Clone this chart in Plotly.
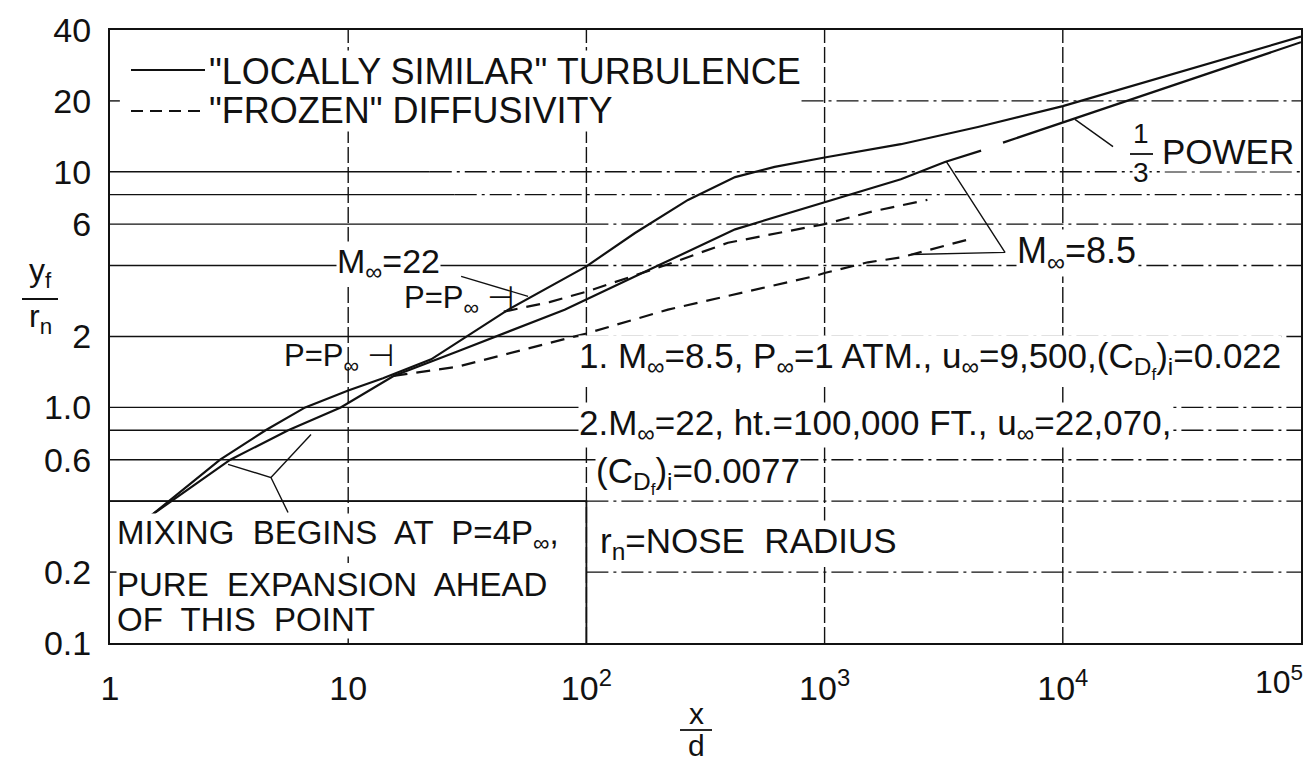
import plotly.graph_objects as go

# values (x/d against y_f/r_n, both log)
m22_local_x = [1.5, 2.9, 4.5, 6.6, 10, 14, 22.3, 30.9, 47, 100, 160, 267, 421, 617, 1000, 2090, 4400, 10000, 100000]
m22_local_y = [0.35, 0.6, 0.8, 1.0, 1.18, 1.33, 1.6, 1.98, 2.6, 3.97, 5.5, 7.6, 9.5, 10.5, 11.5, 13.1, 15.5, 19.0, 37.5]

m85_local_x = [1.5, 3.2, 5.6, 9.3, 15.5, 28.9, 81, 100, 200, 421, 1000, 2090, 3200, 4540]
m85_local_y = [0.35, 0.6, 0.8, 1.0, 1.36, 1.73, 2.6, 2.87, 4.0, 5.7, 7.42, 9.3, 11.0, 12.3]

m22_frozen_x = [45, 70, 100, 220, 393, 682, 1000, 1600, 2700]
m22_frozen_y = [2.55, 2.8, 3.1, 4.05, 5.0, 5.55, 6.0, 6.8, 7.6]

m85_frozen_x = [15.5, 28.9, 81, 100, 220, 900, 1000, 1520, 2090, 4120]
m85_frozen_y = [1.36, 1.49, 1.95, 2.06, 2.6, 3.6, 3.72, 4.13, 4.33, 5.2]

third_power_x = [5610, 10000, 100000]
third_power_y = [13.3, 16.2, 35.5]

# axes (the 10^5 label sits at the page edge, drawn separately)
x_ticks = [1, 10, 100, 1000, 10000, 100000]
x_ticktext = ["1", "10", "10<sup>2</sup>", "10<sup>3</sup>", "10<sup>4</sup>", ""]
y_ticks = [0.1, 0.2, 0.6, 1, 2, 6, 10, 20, 40]
y_ticktext = ["0.1", "0.2", "0.6", "1.0", "2", "6", "10", "20", "40"]

# grid: value, solid part up to, dash-dot part from
grid_y = [20, 10, 8, 6, 4, 2, 1, 0.8, 0.6, 0.4, 0.2]
grid_solid_to = [1.1, 22, 28, 100, 100, 100, 100, 100, 100, 100, 1.1]
grid_dash_from = [800, 22, 28, 100, 100, 100, 100, 100, 100, 100, 100]
grid_x = [10, 100, 1000, 10000]

# leader lines of the labels
lead_m22 = ([29.8, 56.9], [3.6, 2.96])
lead_m85 = ([3235, 5720, 2305], [11.1, 4.55, 4.46])
lead_third = ([11250, 16250], [16.7, 12.8])
lead_mix = ([5.59, 4.74, 3.13, None, 4.74, 6.98], [0.358, 0.504, 0.573, None, 0.504, 0.768])

INK = "#111111"
FONT = "Liberation Sans, DejaVu Sans, sans-serif"
W, H = 1312, 760
L, R, T, B = 102, 19, 22, 125


def pp(x, y):
    # pixel position -> paper coords
    return (x - L) / (W - L - R), (H - B - y) / (H - T - B)


fig = go.Figure()

def seg_line(xs, ys, dash, width=1.4):
    fig.add_trace(go.Scatter(x=xs, y=ys, mode="lines", hoverinfo="skip", showlegend=False,
                             line=dict(color=INK, width=width, dash=dash)))

# horizontal grid
sx, sy, dx, dy = [], [], [], []
for g, s_to, d_from in zip(grid_y, grid_solid_to, grid_dash_from):
    sx += [1, s_to, None]
    sy += [g, g, None]
    dx += [d_from, 100000, None]
    dy += [g, g, None]
seg_line(sx, sy, "solid")
seg_line(dx, dy, "22px,5px,3px,5px")

# vertical grid
vx, vy = [], []
for g in grid_x:
    vx += [g, g, None]
    vy += [0.1, 40, None]
seg_line(vx, vy, "16px,4px")
# note box
seg_line([1, 100, 100], [0.4, 0.4, 0.1], "solid", 1.8)

# curves
seg_line(m22_local_x, m22_local_y, "solid", 2.2)
seg_line(m85_local_x, m85_local_y, "solid", 2.2)
seg_line(m22_frozen_x, m22_frozen_y, "14px,9px", 2.2)
seg_line(m85_frozen_x, m85_frozen_y, "14px,9px", 2.2)
seg_line(third_power_x, third_power_y, "solid", 2.2)

# leaders
for lx, ly in [lead_m22, lead_m85, lead_third, lead_mix]:
    seg_line(lx, ly, "solid", 1.4)


def label(text, x, y, size=34, anchor="left", bg="white"):
    px_, py_ = pp(x, y)
    fig.add_annotation(text=text, x=px_, y=py_, xref="paper", yref="paper",
                       xanchor=anchor, yanchor="middle", showarrow=False,
                       font=dict(family=FONT, size=size, color=INK),
                       bgcolor=bg, borderpad=0)


def bar(x0, x1, y, dash="solid", width=1.8):
    a, b = pp(x0, y)
    c, _ = pp(x1, y)
    fig.add_shape(type="line", xref="paper", yref="paper", x0=a, x1=c, y0=b, y1=b,
                  line=dict(color=INK, width=width, dash=dash))


# legend
bar(123, 197, 62, "solid", 2.2)
bar(123, 197, 103, "12px,7px", 2.2)
label('"LOCALLY SIMILAR" TURBULENCE', 200, 63, 36)
label('"FROZEN" DIFFUSIVITY', 200, 103, 36)

# curve labels
label("M<sub>∞</sub>=22", 328, 255, 34)
label("P=P<sub>∞</sub> ⊣", 395, 292, 31, bg=None)
label("P=P<sub>∞</sub> ⊣", 275, 350, 31, bg=None)
label("M<sub>∞</sub>=8.5", 1008, 245, 36)
label("1", 1133, 125, 28, "center")
label("3", 1133, 164, 28, "center")
bar(1122, 1145, 146)
label("POWER", 1153, 143, 35)

# notes
label("1. M<sub>∞</sub>=8.5, P<sub>∞</sub>=1 ATM., u<sub>∞</sub>=9,500,(C<sub>D<sub>f</sub></sub>)<sub>i</sub>=0.022", 570, 352, 35)
label("2.M<sub>∞</sub>=22, ht.=100,000 FT., u<sub>∞</sub>=22,070,", 570, 417, 35)
label("(C<sub>D<sub>f</sub></sub>)<sub>i</sub>=0.0077", 587, 467, 35)
label("r<sub>n</sub>=NOSE  RADIUS", 591, 535, 35)

label("MIXING  BEGINS  AT  P=4P<sub>∞</sub>,", 108, 527, 33)
label("PURE  EXPANSION  AHEAD", 108, 576, 33)
label("OF  THIS  POINT", 108, 611, 33)

# last x tick label, kept inside the page
label("10<sup>5</sup>", 1246, 672, 32, "left", None)

# axis titles as fractions
label("y<sub>f</sub>", 32, 264, 32, "center", None)
bar(14, 50, 291)
label("r<sub>n</sub>", 32, 310, 32, "center", None)
label("x", 688, 705, 30, "center", None)
bar(672, 704, 722)
label("d", 688, 738, 30, "center", None)

axis_common = dict(type="log", showgrid=False, zeroline=False, showline=True, mirror=True,
                   linecolor=INK, linewidth=2, ticks="", automargin=False,
                   ticklabeloverflow="allow",
                   tickfont=dict(family=FONT, size=34, color=INK))
fig.update_xaxes(range=[0, 5], tickvals=x_ticks, ticktext=x_ticktext, ticklabelstandoff=14, **axis_common)
fig.update_yaxes(range=[-1, 1.602], tickvals=y_ticks, ticktext=y_ticktext, ticklabelstandoff=10, **axis_common)

fig.update_layout(width=W, height=H, autosize=False,
                  margin=dict(l=L, r=R, t=T, b=B),
                  paper_bgcolor="white", plot_bgcolor="white",
                  showlegend=False)

fig.write_html("out.html")
